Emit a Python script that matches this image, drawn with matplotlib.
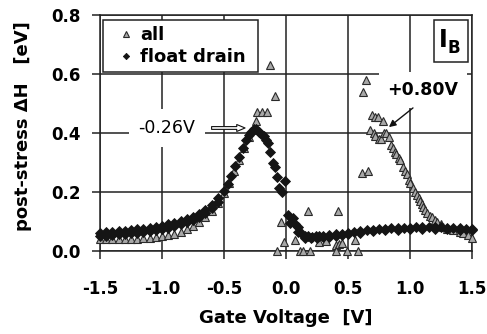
import matplotlib
matplotlib.use('Agg')
import matplotlib.pyplot as plt
from matplotlib.lines import Line2D
from matplotlib.patches import Rectangle

# ---------------- data ----------------
# "float drain" series (diamonds): sweep 1
fd1_v = [-1.50, -1.45, -1.40, -1.35, -1.30, -1.25, -1.20, -1.15, -1.10, -1.05,
         -1.00, -0.95, -0.90, -0.85, -0.80, -0.75, -0.70, -0.65, -0.60, -0.55,
         -0.50, -0.47, -0.44, -0.41, -0.38, -0.35, -0.32, -0.30, -0.28, -0.26,
         -0.24, -0.22, -0.20, -0.18, -0.16, -0.145, -0.13, -0.105, -0.09, -0.075,
         -0.055, -0.035, -0.01, 0.015, 0.03, 0.055, 0.07, 0.10, 0.12, 0.15,
         0.18, 0.21, 0.24, 0.27, 0.30, 0.35, 0.40, 0.45, 0.50, 0.55,
         0.60, 0.65, 0.70, 0.75, 0.80, 0.85, 0.90, 0.95, 1.00, 1.05,
         1.10, 1.15, 1.20, 1.25, 1.30, 1.35, 1.40, 1.45, 1.50]
fd1_y = [0.062, 0.063, 0.065, 0.067, 0.069, 0.071, 0.073, 0.076, 0.079, 0.082,
         0.086, 0.090, 0.095, 0.101, 0.108, 0.116, 0.126, 0.139, 0.156, 0.178,
         0.205, 0.228, 0.255, 0.287, 0.318, 0.348, 0.375, 0.392, 0.405, 0.414,
         0.412, 0.405, 0.398, 0.390, 0.375, 0.365, 0.335, 0.300, 0.285, 0.250,
         0.213, 0.200, 0.237, 0.122, 0.095, 0.112, 0.090, 0.080, 0.060, 0.052,
         0.050, 0.049, 0.050, 0.051, 0.052, 0.054, 0.056, 0.059, 0.062, 0.065,
         0.068, 0.070, 0.072, 0.074, 0.076, 0.077, 0.078, 0.079, 0.079, 0.080,
         0.080, 0.080, 0.080, 0.080, 0.079, 0.078, 0.077, 0.076, 0.075]
# "float drain" series (diamonds): sweep 2
fd2_v = [-1.50, -1.45, -1.40, -1.35, -1.30, -1.25, -1.20, -1.15, -1.10, -1.05,
         -1.00, -0.95, -0.90, -0.85, -0.80, -0.75, -0.70, -0.65, -0.60, -0.55,
         0.10, 0.15, 0.20, 0.25, 0.30, 0.35, 0.40, 0.45, 0.50, 0.60,
         0.70, 0.80, 0.90, 1.00, 1.10, 1.20, 1.30, 1.40, 1.50]
fd2_y = [0.050, 0.052, 0.054, 0.056, 0.058, 0.060, 0.062, 0.065, 0.068, 0.071,
         0.075, 0.079, 0.084, 0.090, 0.097, 0.106, 0.116, 0.129, 0.146, 0.167,
         0.065, 0.045, 0.044, 0.045, 0.047, 0.049, 0.051, 0.054, 0.057, 0.062,
         0.067, 0.070, 0.072, 0.073, 0.074, 0.074, 0.073, 0.072, 0.070]

# "all" series (triangles)
all_v = [-1.50, -1.45, -1.40, -1.35, -1.30, -1.25, -1.20, -1.15, -1.10, -1.05,
         -1.00, -0.95, -0.90, -0.85, -0.80, -0.75, -0.70, -0.65, -0.60, -0.55,
         -0.50, -0.46, -0.42, -0.38, -0.34, -0.30, -0.27, -0.24, -0.23, -0.19,
         -0.15, -0.09, -0.13,
         -0.04, -0.02, -0.07, 0.07, 0.11, 0.14, 0.19, 0.18, 0.27, 0.32,
         0.40, 0.43, 0.45, 0.42, 0.40, 0.49, 0.56, 0.58,
         0.61, 0.66, 0.62, 0.645,
         0.69, 0.72, 0.74, 0.78, 0.68, 0.71, 0.72, 0.75, 0.77, 0.79,
         0.81, 0.83, 0.85, 0.86, 0.88, 0.89, 0.91, 0.92, 0.94, 0.96,
         0.975, 0.99, 1.00, 1.025, 1.04, 1.055, 1.07, 1.08, 1.095, 1.105,
         1.12, 1.135, 1.16, 1.18, 1.20, 1.22, 1.25, 1.27, 1.30, 1.35,
         1.40, 1.43, 1.47, 1.50]
all_y = [0.042, 0.042, 0.041, 0.041, 0.041, 0.041, 0.042, 0.043, 0.045, 0.047,
         0.050, 0.054, 0.059, 0.066, 0.074, 0.085, 0.098, 0.115, 0.137, 0.163,
         0.195, 0.230, 0.270, 0.310, 0.350, 0.385, 0.410, 0.440, 0.470, 0.470,
         0.470, 0.525, 0.630,
         0.100, 0.030, 0.000, 0.037, 0.000, 0.000, 0.000, 0.135, 0.030, 0.035,
         0.020, 0.025, 0.027, 0.135, 0.000, 0.000, 0.037, 0.000,
         0.265, 0.270, 0.540, 0.580,
         0.460, 0.455, 0.455, 0.440, 0.410, 0.400, 0.390, 0.380, 0.380, 0.400,
         0.400, 0.385, 0.360, 0.350, 0.335, 0.330, 0.315, 0.310, 0.285, 0.270,
         0.260, 0.240, 0.230, 0.215, 0.200, 0.190, 0.180, 0.170, 0.160, 0.150,
         0.140, 0.130, 0.120, 0.115, 0.105, 0.100, 0.090, 0.080, 0.075, 0.070,
         0.065, 0.060, 0.055, 0.045]

xticks = [-1.5, -1.0, -0.5, 0.0, 0.5, 1.0, 1.5]
xtick_labels = ['-1.5', '-1.0', '-0.5', '0.0', '0.5', '1.0', '1.5']
yticks = [0.0, 0.2, 0.4, 0.6, 0.8]
ytick_labels = ['0.0', '0.2', '0.4', '0.6', '0.8']
series_labels = ['all', 'float drain']

# ---------------- figure ----------------
plt.rcParams['font.family'] = ['DejaVu Sans']
plt.rcParams['font.weight'] = 'bold'
plt.rcParams['axes.labelweight'] = 'bold'
plt.rcParams['axes.unicode_minus'] = False

fig = plt.figure(figsize=(4.87, 3.34), dpi=100)
ax = fig.add_axes([100 / 487, 83 / 334, 372 / 487, 236 / 334])

tri_style = dict(ls='none', marker='^', mfc='#a8a8a8', mec='#2a2a2a', mew=0.8)
dia_style = dict(ls='none', marker='D', mfc='#151515', mec='#151515', mew=0.6)

ax.plot(all_v, all_y, ms=6, clip_on=False, zorder=3, **tri_style)
ax.plot(fd1_v, fd1_y, ms=5, clip_on=False, zorder=4, **dia_style)
ax.plot(fd2_v, fd2_y, ms=5, clip_on=False, zorder=4, **dia_style)

ax.set_xlim(-1.5, 1.5)
ax.set_ylim(0, 0.8)
ax.set_xticks(xticks)
ax.set_xticklabels(xtick_labels)
ax.set_yticks(yticks)
ax.set_yticklabels(ytick_labels)

ax.grid(True, color='#222222', lw=1.1)
ax.set_axisbelow(True)
for s in ax.spines.values():
    s.set_linewidth(1.1)
    s.set_color('#222222')
ax.tick_params(direction='out', length=6, width=1.1, color='#222222', labelsize=12)
ax.tick_params(axis='x', pad=15)
ax.tick_params(axis='y', pad=8)

ax.set_xlabel('Gate Voltage  [V]', fontsize=13, fontweight='bold', labelpad=8)
ax.set_ylabel('post-stress ΔH   [eV]', fontsize=13, fontweight='bold')
ax.yaxis.set_label_coords(-0.183, 0.528)

handles = [Line2D([], [], ms=4.5, **tri_style), Line2D([], [], ms=3.2, **dia_style)]
leg = ax.legend(handles, series_labels, loc='upper left',
                bbox_to_anchor=(0.008, 0.75, 0.417, 0.229), mode='expand',
                fontsize=13, frameon=True, fancybox=False, edgecolor='#222222',
                framealpha=1, borderpad=0.35, handlelength=1.9, handletextpad=-0.2,
                labelspacing=0.2, borderaxespad=0)
leg.get_frame().set_linewidth(1.1)
leg.set_zorder(6)

# annotations
ax.text(-0.96, 0.417, '-0.26V', ha='center', va='center', fontsize=12.5,
        fontweight='normal', zorder=5,
        bbox=dict(boxstyle='square,pad=0.55', fc='white', ec='none'))
ax.annotate('', xy=(-0.33, 0.417), xytext=(-0.6, 0.417), zorder=5,
            arrowprops=dict(arrowstyle='simple,head_length=0.6,head_width=0.5,tail_width=0.2',
                            fc='white', ec='#111111', lw=0.8, shrinkA=0, shrinkB=0))
ax.text(1.105, 0.546, '+0.80V', ha='center', va='center', fontsize=12.5,
        fontweight='bold', zorder=5,
        bbox=dict(boxstyle='square,pad=0.5', fc='white', ec='none'))
ax.annotate('', xy=(0.83, 0.42), xytext=(1.024, 0.485), zorder=5,
            arrowprops=dict(arrowstyle='-|>,head_length=0.4,head_width=0.2',
                            fc='#111111', ec='#111111', lw=1.0, shrinkA=0, shrinkB=0))

ax.add_patch(Rectangle((0.898, 0.801), 0.091, 0.178, transform=ax.transAxes,
                       fc='white', ec='#222222', lw=1.1, zorder=6))
ax.text(0.922, 0.894, 'I', transform=ax.transAxes, ha='center', va='center',
        fontsize=17, zorder=7)
ax.text(0.952, 0.862, 'B', transform=ax.transAxes, ha='center', va='center',
        fontsize=12, zorder=7)

fig.savefig('out.png', dpi=100)
